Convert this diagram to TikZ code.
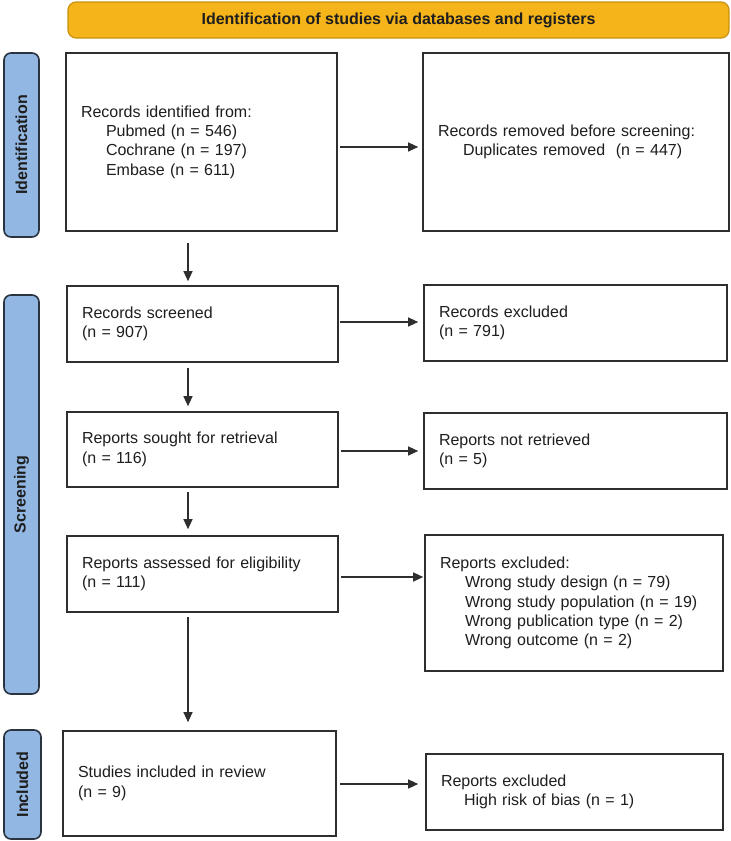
\documentclass[tikz,border=0pt]{standalone}
\usepackage{fontspec}
\setmainfont{Liberation Sans}
\usetikzlibrary{arrows.meta,calc}
\definecolor{orangefill}{HTML}{F4B41A}
\definecolor{orangeedge}{HTML}{C8920E}
\definecolor{bluefill}{HTML}{92B7E2}
\definecolor{blueedge}{HTML}{2A3440}
\definecolor{edgecol}{HTML}{2E2E2E}
\definecolor{txt}{HTML}{1E1E1E}
\begin{document}
\begin{tikzpicture}[x=1pt,y=-1pt,
  box/.style={draw=edgecol, line width=1.6pt, fill=white, inner xsep=15pt, inner ysep=0pt,
    align=left, text=txt, font=\fontsize{16}{19.4}\selectfont},
  sidebar/.style={draw=blueedge, line width=1.6pt, fill=bluefill, rounded corners=7pt,
    rotate=90, inner sep=0pt, text=txt, font=\fontsize{16}{19}\selectfont\bfseries},
  titlebar/.style={draw=orangeedge, line width=1.2pt, fill=orangefill, rounded corners=8pt,
    inner sep=0pt, text=txt, font=\fontsize{16}{19}\selectfont\bfseries},
  arr/.style={draw=edgecol, line width=1.1pt, -{Triangle[length=10pt,width=9pt]}}
]
\useasboundingbox (0,0) rectangle (731,841);
\coordinate (colx) at (188,0);

% title
\node[titlebar, minimum width=661pt, minimum height=36pt] (title) at (398.5,20)
  {Identification of studies via databases and registers};

% side bars
\node[sidebar, minimum width=184pt, minimum height=35pt] (idbar) at (21.5,145) {Identification};
\node[sidebar, minimum width=399pt, minimum height=35pt] (scbar) at (21.5,494.5) {Screening};
\node[sidebar, minimum width=109pt, minimum height=37pt] (incbar) at (22.5,784.5) {Included};

% left column
\node[box, minimum width=271pt, minimum height=178pt, text width=241pt] (ident) at (201.5,142)
  {Records identified from:\\
   \hspace*{25pt}Pubmed (n = 546)\\
   \hspace*{25pt}Cochrane (n = 197)\\
   \hspace*{25pt}Embase (n = 611)};
\node[box, minimum width=271pt, minimum height=76pt, text width=241pt] (screened) at (202.5,324)
  {Records screened\\(n = 907)};
\node[box, minimum width=271pt, minimum height=75pt, text width=241pt] (sought) at (202.5,449.5)
  {Reports sought for retrieval\\(n = 116)};
\node[box, minimum width=271pt, minimum height=76pt, text width=241pt] (assessed) at (202.5,574)
  {Reports assessed for eligibility\\(n = 111)};
\node[box, minimum width=273pt, minimum height=105pt, text width=243pt] (included) at (199.5,783.5)
  {Studies included in review\\(n = 9)};

% right column
\node[box, minimum width=306pt, minimum height=178pt, text width=276pt] (removed) at (576,142)
  {Records removed before screening:\\
   \hspace*{25pt}Duplicates removed~ (n = 447)};
\node[box, minimum width=303pt, minimum height=76pt, text width=273pt] (excl1) at (575.5,323)
  {Records excluded\\(n = 791)};
\node[box, minimum width=303pt, minimum height=76pt, text width=273pt] (notret) at (575.5,451)
  {Reports not retrieved\\(n = 5)};
\node[box, minimum width=298pt, minimum height=136pt, text width=268pt] (excl2) at (574,603)
  {Reports excluded:\\
   \hspace*{25pt}Wrong study design (n = 79)\\
   \hspace*{25pt}Wrong study population (n = 19)\\
   \hspace*{25pt}Wrong publication type (n = 2)\\
   \hspace*{25pt}Wrong outcome (n = 2)};
\node[box, minimum width=297pt, minimum height=76pt, text width=267pt] (excl3) at (574.5,792)
  {Reports excluded\\
   \hspace*{23pt}High risk of bias (n = 1)};

% vertical arrows
\draw[arr] ($(ident.south -| colx)+(0,11)$) -- ($(screened.north -| colx)+(0,-4)$);
\draw[arr] ($(screened.south -| colx)+(0,5)$) -- ($(sought.north -| colx)+(0,-5)$);
\draw[arr] ($(sought.south -| colx)+(0,4)$) -- ($(assessed.north -| colx)+(0,-6)$);
\draw[arr] ($(assessed.south -| colx)+(0,4)$) -- ($(included.north -| colx)+(0,-8)$);

% horizontal arrows
\draw[arr] ($(ident.east)+(2,5)$) -- ($(removed.west)+(-4,5)$);
\draw[arr] ($(screened.east)+(1,-2)$) -- ($(excl1.west)+(-5,-1)$);
\draw[arr] ($(sought.east)+(2,1.5)$) -- ($(notret.west)+(-5,0)$);
\draw[arr] ($(assessed.east)+(2,3)$) -- ($(excl2.west)+(-1,-26)$);
\draw[arr] ($(included.east)+(3,0.5)$) -- ($(excl3.west)+(-7,-8)$);
\end{tikzpicture}
\end{document}
